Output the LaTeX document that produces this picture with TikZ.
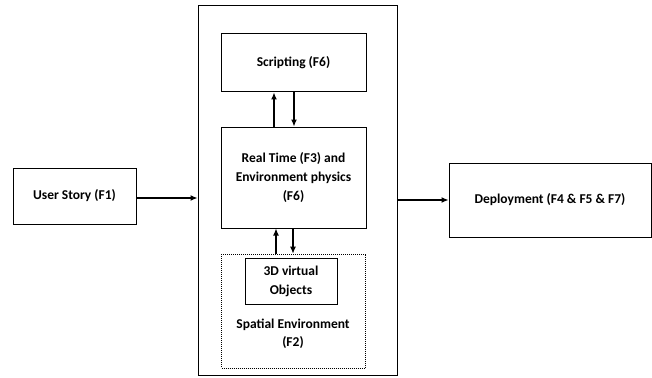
\documentclass[tikz,border=0pt]{standalone}
\usepackage{fontspec}
\setmainfont{Carlito}
\usetikzlibrary{arrows.meta}
\tikzset{
  box/.style={draw, line width=1pt, align=center, inner sep=0pt,
    font=\bfseries\fontsize{13.5}{19}\selectfont},
  link/.style={-{Latex[length=7pt,width=6pt]}, line width=1.2pt},
}

\begin{document}
\begin{tikzpicture}[x=1pt, y=-1pt]
\useasboundingbox (0,0) rectangle (652,377);
% frame and inner blocks
\node[box, minimum width=199pt, minimum height=369pt] (engine) at (297.5,190.5) {};
\node[box, minimum width=145pt, minimum height=58pt] (script) at (293.5,63) {Scripting (F6)};
\node[box, minimum width=145pt, minimum height=101pt] (realtime) at (293.5,177.5) {Real Time (F3) and\\Environment physics\\(F6)};
\node[box, line width=0.7pt, dash pattern=on 1pt off 1pt, minimum width=144pt, minimum height=114pt] (spatial) at (293.5,311) {};
\node[box, minimum width=92pt, minimum height=46pt] (objects) at (291,281) {3D virtual\\Objects};
\node[font=\bfseries\fontsize{13.5}{18}\selectfont, align=center] (spatiallabel) at (293,334) {Spatial Environment\\(F2)};
% outside blocks
\node[box, minimum width=123pt, minimum height=56pt] (story) at (74.5,196) {User Story (F1)};
\node[box, minimum width=202pt, minimum height=74pt] (deploy) at (550,200) {Deployment (F4 \& F5 \& F7)};
% connectors
\draw[link] ([yshift=-2pt]story.east) -- ([yshift=-2pt]story.east -| engine.west);
\draw[link] (deploy.west -| engine.east) -- (deploy.west);
\draw[link] ([xshift=-19.5pt]realtime.north) -- ([xshift=-19.5pt]script.south);
\draw[link] ([xshift=0.5pt]script.south) -- ([xshift=0.5pt]realtime.north);
\draw[link] ([xshift=-17.5pt]spatial.north) -- ([xshift=-17.5pt]realtime.south);
\draw[link] ([xshift=-0.5pt]realtime.south) -- ([xshift=-0.5pt]spatial.north);
\end{tikzpicture}
\end{document}
